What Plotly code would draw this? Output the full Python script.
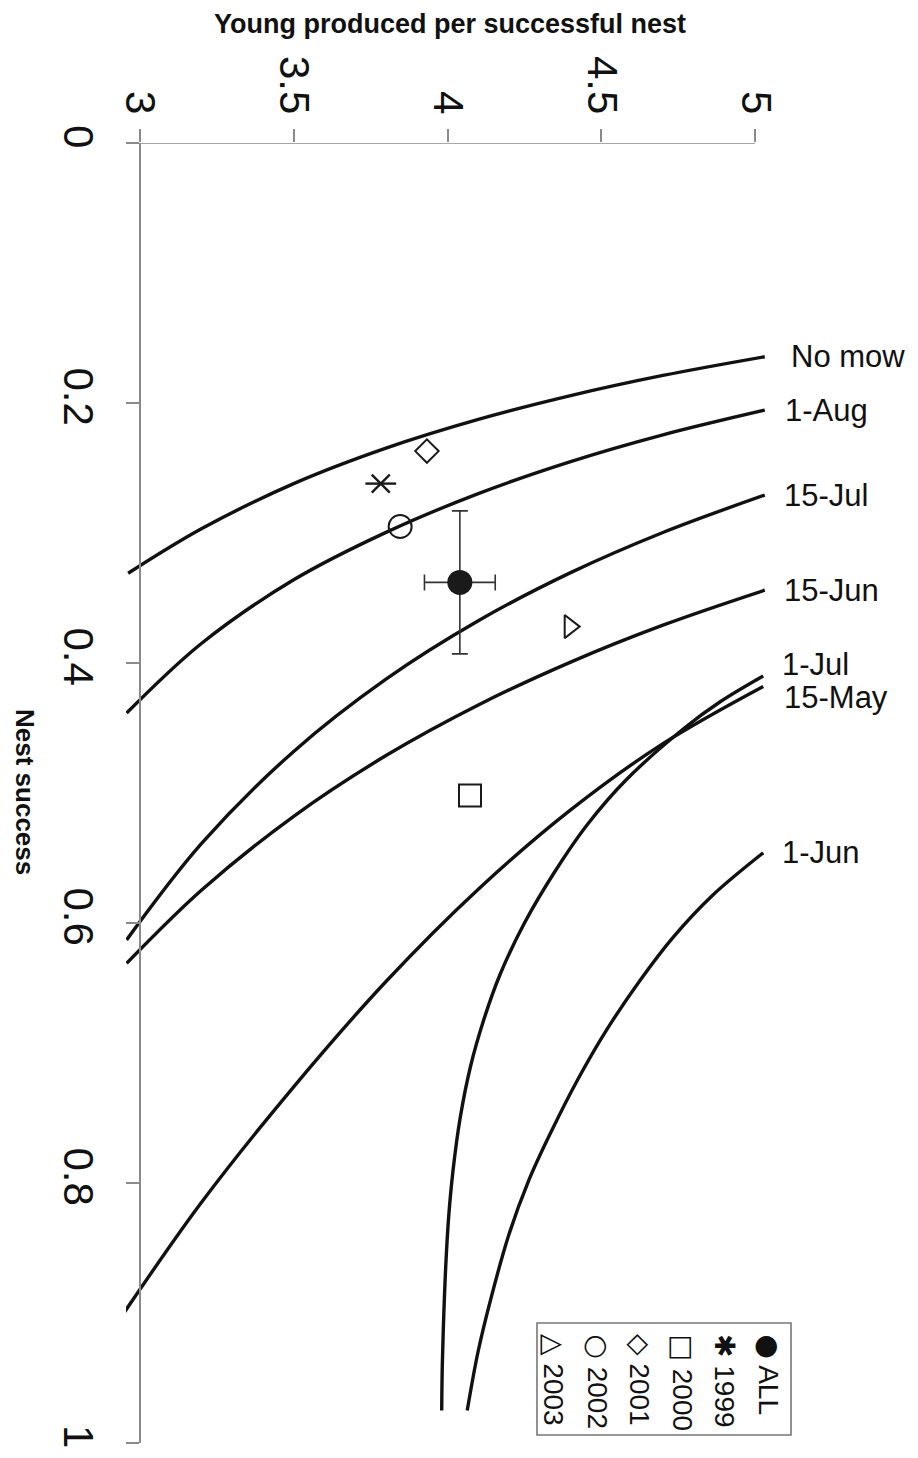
import plotly.graph_objects as go

# ---------------- canvas / plot box (pixels) ----------------
# the page body has an 8px margin, so the figure is drawn 8px in from the window corner
OFF = 8
W, H = 910, 1450
ML, MR, MT, MB = 118, 152, 135, 15
X_RANGE = [2.955, 5.035]

FONT = "Arial, Liberation Sans, DejaVu Sans, sans-serif"
GLYPH_FONT = "DejaVu Sans"
AXIS_GREY = "#8a8a8a"

# ---------------- curves ----------------
# x = young produced per successful nest, y = nest success
nomow_x = [2.962, 3.2, 3.5, 3.8, 4.1, 4.4, 4.7, 5.031]
nomow_y = [0.331, 0.2968, 0.262, 0.2347, 0.2126, 0.1943, 0.1788, 0.1644]

aug1_x = [2.957, 3.2, 3.5, 3.8, 4.1, 4.4, 4.7, 5.031]
aug1_y = [0.4385, 0.385, 0.336, 0.2995, 0.2697, 0.2451, 0.2245, 0.2055]

jul15_x = [2.957, 3.2, 3.5, 3.8, 4.1, 4.4, 4.7, 5.031]
jul15_y = [0.613, 0.539, 0.468, 0.4124, 0.3675, 0.3305, 0.2996, 0.2708]

jun15_x = [2.957, 3.2, 3.5, 3.8, 4.1, 4.4, 4.7, 5.031]
jun15_y = [0.631, 0.5748, 0.5179, 0.4712, 0.4323, 0.3993, 0.3709, 0.344]

jul1_x = [3.981, 3.983, 3.988, 3.995, 4.004, 4.018, 4.041, 4.075, 4.117, 4.17, 4.25,
          4.35, 4.452, 4.58, 4.77, 4.885, 5.026]
jul1_y = [0.975, 0.94, 0.90, 0.86, 0.825, 0.79, 0.75, 0.71, 0.675, 0.64, 0.60,
          0.56, 0.525, 0.49, 0.45, 0.43, 0.410]

may15_x = [2.951, 3.2, 3.5, 3.8, 4.1, 4.4, 4.7, 5.026]
may15_y = [0.899, 0.815, 0.726, 0.645, 0.574, 0.513, 0.462, 0.418]

jun1_x = [4.064, 4.099, 4.143, 4.199, 4.264, 4.338, 4.422, 4.515, 4.626, 4.733, 4.86, 5.026]
jun1_y = [0.975, 0.93, 0.887, 0.84, 0.798, 0.76, 0.721, 0.683, 0.644, 0.611, 0.579, 0.546]

curve_labels = ["No mow", "1-Aug", "15-Jul", "15-Jun", "1-Jul", "15-May", "1-Jun"]
label_yshift = [0, 0, 0, 0, 12, -11, 0]
label_xshift = [24, 18, 17, 17, 17, 19, 17]

# ---------------- observed years ----------------
all_x, all_y = [4.04], [0.338]
all_xerr, all_yerr = [0.115], [0.055]
y1999_x, y1999_y = [3.783], [0.262]
y2000_x, y2000_y = [4.073], [0.502]
y2001_x, y2001_y = [3.933], [0.237]
y2002_x, y2002_y = [3.846], [0.295]
y2003_x, y2003_y = [4.397], [0.372]

legend_labels = ["ALL", "1999", "2000", "2001", "2002", "2003"]
legend_glyphs = ["\u25CF", "\u2731", "\u25A1", "\u25C7", "\u25CB", "\u25B3"]

x_ticks = [3, 3.5, 4, 4.5, 5]
x_ticktext = ["3", "3.5", "4", "4.5", "5"]
y_ticks = [0, 0.2, 0.4, 0.6, 0.8, 1]
y_ticktext = ["0", "0.2", "0.4", "0.6", "0.8", "1"]


# screen pixel -> paper fraction
def px_x(px):
    return (px - OFF - ML) / (W - ML - MR)


def px_y(py):
    return 1 - (py - OFF - MT) / (H - MT - MB)


fig = go.Figure()

curves = [(nomow_x, nomow_y), (aug1_x, aug1_y), (jul15_x, jul15_y), (jun15_x, jun15_y),
          (jul1_x, jul1_y), (may15_x, may15_y), (jun1_x, jun1_y)]
for (cx, cy), name in zip(curves, curve_labels):
    fig.add_trace(go.Scatter(x=cx, y=cy, mode="lines", name=name,
                             line=dict(color="#111111", width=3.4, shape="spline", smoothing=1.0),
                             showlegend=False, hoverinfo="skip"))

# year points
INK = "#1a1a1a"
fig.add_trace(go.Scatter(x=all_x, y=all_y, mode="markers", name="ALL",
                         marker=dict(symbol="circle", size=25, color=INK),
                         error_x=dict(type="data", array=all_xerr, color="#333333", thickness=1.6, width=8),
                         error_y=dict(type="data", array=all_yerr, color="#333333", thickness=1.6, width=8)))
fig.add_trace(go.Scatter(x=y1999_x, y=y1999_y, mode="markers", name="1999",
                         marker=dict(symbol="x-thin-open", size=18, color=INK, line=dict(color=INK, width=2.4))))
fig.add_trace(go.Scatter(x=y1999_x, y=y1999_y, mode="markers", showlegend=False,
                         marker=dict(symbol="line-ew-open", size=22, color=INK, line=dict(color=INK, width=2.4))))
fig.add_trace(go.Scatter(x=y2000_x, y=y2000_y, mode="markers", name="2000",
                         marker=dict(symbol="square-open", size=22, color=INK, line=dict(width=2))))
fig.add_trace(go.Scatter(x=y2001_x, y=y2001_y, mode="markers", name="2001",
                         marker=dict(symbol="diamond-open", size=18, color=INK, line=dict(width=2))))
fig.add_trace(go.Scatter(x=y2002_x, y=y2002_y, mode="markers", name="2002",
                         marker=dict(symbol="circle-open", size=23, color=INK, line=dict(width=2))))
fig.add_trace(go.Scatter(x=y2003_x, y=y2003_y, mode="markers", name="2003",
                         marker=dict(symbol="triangle-right-open", size=20, color=INK, line=dict(width=2))))

annotations = []
for (cx, cy), name, ys, xs in zip(curves, curve_labels, label_yshift, label_xshift):
    annotations.append(dict(x=cx[-1], y=cy[-1], xref="x", yref="y", text=name, showarrow=False,
                            xanchor="left", yanchor="middle", xshift=xs, yshift=ys,
                            font=dict(family=FONT, size=31, color="#111111")))

# axis titles
annotations.append(dict(x=px_x(450), y=px_y(24), xref="paper", yref="paper",
                        text="Young produced per successful nest", showarrow=False,
                        xanchor="center", yanchor="middle",
                        font=dict(family=FONT, size=27, color="#111111", weight="bold")))
annotations.append(dict(x=px_x(25), y=px_y(792), xref="paper", yref="paper",
                        text="Nest success", showarrow=False, textangle=90,
                        xanchor="center", yanchor="middle",
                        font=dict(family=FONT, size=26, color="#111111", weight="bold")))

# rotated legend
legend_cols = [768, 725, 682, 640, 597, 554]
for col, glyph, lab in zip(legend_cols, legend_glyphs, legend_labels):
    annotations.append(dict(x=px_x(col), y=px_y(1332), xref="paper", yref="paper",
                            text="<span style='font-family:" + GLYPH_FONT + "'>" + glyph + "</span> " + lab,
                            showarrow=False, textangle=90,
                            xanchor="center", yanchor="top",
                            font=dict(family=FONT, size=28, color="#111111")))

shapes = [
    dict(type="line", xref="x", yref="y", x0=3, x1=5, y0=0, y1=0,
         line=dict(color=AXIS_GREY, width=1.5)),
    dict(type="rect", xref="paper", yref="paper", x0=px_x(537), x1=px_x(791),
         y0=px_y(1435), y1=px_y(1323), line=dict(color="#777777", width=1.6), fillcolor="white",
         layer="below"),
]

fig.update_layout(
    width=W, height=H,
    margin=dict(l=ML, r=MR, t=MT, b=MB),
    paper_bgcolor="white", plot_bgcolor="white",
    showlegend=False,
    font=dict(family=FONT, color="#111111"),
    annotations=annotations,
    shapes=shapes,
    xaxis=dict(range=X_RANGE, side="top", tickvals=x_ticks, ticktext=x_ticktext,
               tickangle=90, ticks="outside", ticklen=13, tickwidth=1.5, tickcolor=AXIS_GREY,
               tickfont=dict(family=FONT, size=42, color="#111111"),
               showline=False, showgrid=False, zeroline=False, automargin=False),
    yaxis=dict(range=[1, 0], anchor="free",
               position=(3 - X_RANGE[0]) / (X_RANGE[1] - X_RANGE[0]),
               tickvals=y_ticks, ticktext=y_ticktext, tickangle=90,
               ticks="outside", ticklen=13, tickwidth=1.5, tickcolor=AXIS_GREY,
               tickfont=dict(family=FONT, size=42, color="#111111"), ticklabelstandoff=12,
               showline=True, linecolor=AXIS_GREY, linewidth=1.5,
               showgrid=False, zeroline=False, automargin=False),
)

fig.write_html("out.html")
